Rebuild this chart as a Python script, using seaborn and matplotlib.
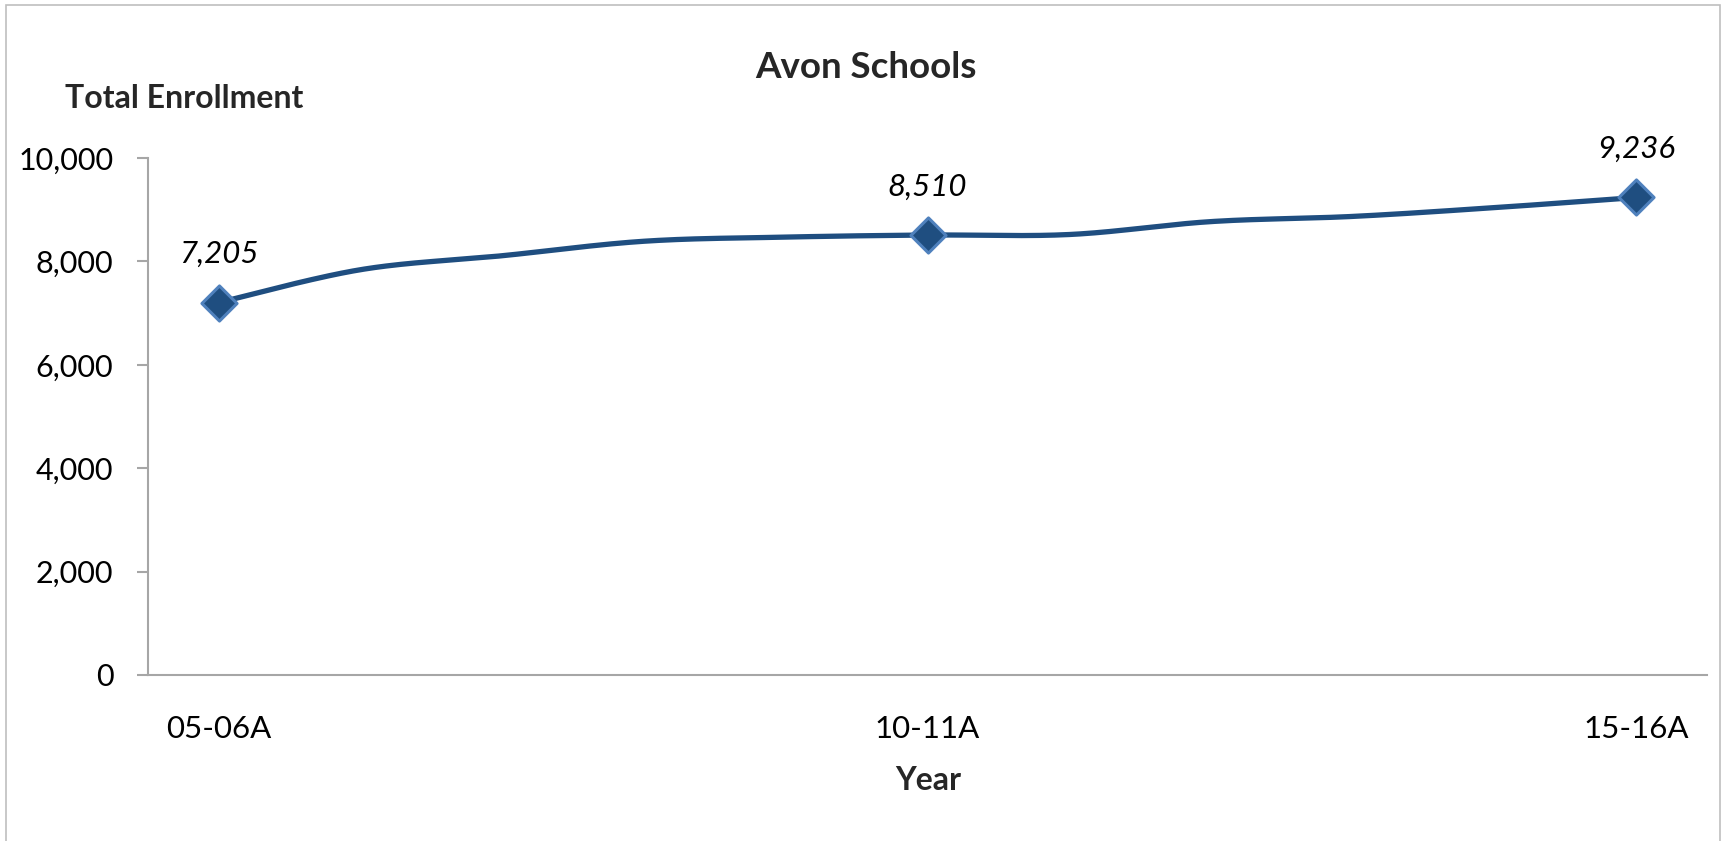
import numpy as np
import pandas as pd
import matplotlib
matplotlib.use("Agg")
import matplotlib.pyplot as plt
import seaborn as sns
from matplotlib.patches import Rectangle

# ---------------------------
# data
# ---------------------------
years = ["05-06A", "06-07A", "07-08A", "08-09A", "09-10A", "10-11A",
         "11-12A", "12-13A", "13-14A", "14-15A", "15-16A"]
enrollment = [7205, 7840, 8110, 8390, 8470, 8510, 8520, 8770, 8870, 9040, 9236]
labeled_years = ["05-06A", "10-11A", "15-16A"]

LINE_COLOR = "#1F4E80"
MARKER_EDGE = "#4F81BD"
GREY = "#A6A6A6"

sns.set_style("white")
plt.rcParams["font.family"] = ["Lato", "DejaVu Sans"]


def smooth_curve(y, steps=40):
    # excel style smoothed line: bezier with control points at +-(p[i+1]-p[i-1])/6
    x = np.arange(len(y), dtype=float)
    y = np.asarray(y, dtype=float)
    px = np.concatenate([[x[0]], x, [x[-1]]])
    py = np.concatenate([[y[0]], y, [y[-1]]])
    xs, ys = [], []
    t = np.linspace(0, 1, steps)
    for i in range(1, len(px) - 2):
        p0 = np.array([px[i], py[i]])
        p3 = np.array([px[i + 1], py[i + 1]])
        c1 = p0 + (np.array([px[i + 1], py[i + 1]]) - np.array([px[i - 1], py[i - 1]])) / 6
        c2 = p3 - (np.array([px[i + 2], py[i + 2]]) - np.array([px[i], py[i]])) / 6
        b = ((1 - t) ** 3)[:, None] * p0 + (3 * (1 - t) ** 2 * t)[:, None] * c1 \
            + (3 * (1 - t) * t ** 2)[:, None] * c2 + (t ** 3)[:, None] * p3
        xs.extend(b[:, 0])
        ys.extend(b[:, 1])
    return np.array(xs), np.array(ys)


cx, cy = smooth_curve(enrollment)
curve = pd.DataFrame({"x": cx, "y": cy})

df = pd.DataFrame({"year": years, "enrollment": enrollment})
df["pos"] = np.arange(len(df))
pts = df[df["year"].isin(labeled_years)]

fig = plt.figure(figsize=(17.27, 8.41), dpi=100)
ax = fig.add_axes([148 / 1727, 1 - 675 / 841, 1559 / 1727, 517 / 841])

sns.lineplot(data=curve, x="x", y="y", sort=False, color=LINE_COLOR,
             linewidth=3.8, ax=ax)
sns.scatterplot(data=pts, x="pos", y="enrollment", marker="D", s=320,
                color=LINE_COLOR, edgecolor=MARKER_EDGE, linewidth=2.2,
                zorder=5, ax=ax)

for _, r in pts.iterrows():
    ax.annotate(f"{r['enrollment']:,}", (r["pos"], r["enrollment"]),
                xytext=(0, 35), textcoords="offset points", ha="center",
                va="center", fontsize=22.5, style="italic", color="#000000")

ax.set_xlim(-0.5, len(years) - 0.5)
ax.set_ylim(0, 10000)
ax.set_yticks(range(0, 10001, 2000))
ax.set_yticklabels([f"{v:,}" for v in range(0, 10001, 2000)])
ax.set_xticks(pts["pos"])
ax.set_xticklabels(pts["year"])
ax.tick_params(axis="y", length=8, width=1.5, color=GREY, pad=17,
               labelsize=22, labelcolor="#000000", left=True)
ax.tick_params(axis="x", length=0, pad=29, labelsize=22.5,
               labelcolor="#000000")

for side in ["top", "right"]:
    ax.spines[side].set_visible(False)
for side in ["left", "bottom"]:
    ax.spines[side].set_color(GREY)
    ax.spines[side].set_linewidth(1.5)

ax.set_xlabel("")
ax.set_ylabel("")

fig.text(866 / 1727, 1 - 68 / 841, "Avon Schools", ha="center", va="center",
         fontsize=26.5, fontweight="bold")
fig.text(65 / 1727, 1 - 99 / 841, "Total Enrollment", ha="left", va="center",
         fontsize=23, fontweight="bold")
fig.text(928 / 1727, 1 - 780 / 841, "Year", ha="center", va="center",
         fontsize=23, fontweight="bold")

# outer chart border
fig.patches.append(Rectangle((6 / 1727, -0.01), 1714 / 1727, 1 - 5 / 841 + 0.01,
                             transform=fig.transFigure, fill=False,
                             edgecolor="#BFBFBF", linewidth=1.2))

fig.savefig("out.png", dpi=100)
